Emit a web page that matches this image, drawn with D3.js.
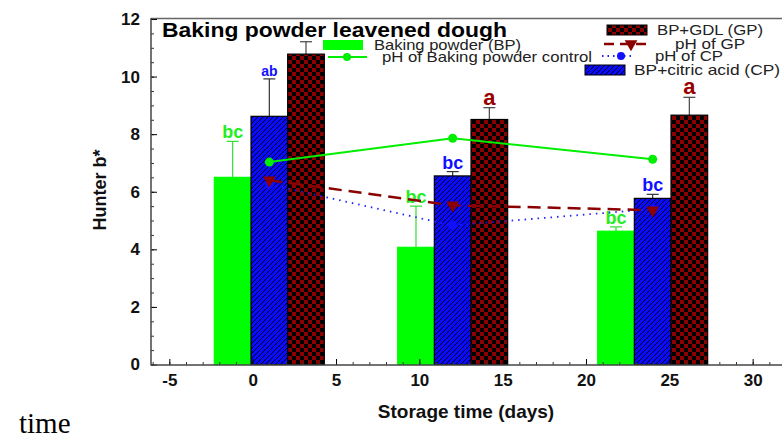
<!DOCTYPE html>
<html><head><meta charset="utf-8">
<script src="https://cdn.jsdelivr.net/npm/d3@7"></script>
<style>
body{margin:0;background:#fff;}
svg{display:block;font-family:"Liberation Sans",Arial,sans-serif;}
</style></head>
<body>
<svg id="chart" width="782" height="438"></svg>
<script>
// ---- data ----
const days = [1, 12, 24];
const bpValues = [6.5, 4.07, 4.63];
const bpErrors = [1.25, 1.43, 0.15];
const cpValues = [8.62, 6.55, 5.77];
const cpErrors = [1.3, 0.15, 0.14];
const gpValues = [10.78, 8.51, 8.66];
const gpErrors = [0.43, 0.41, 0.62];
const phBP = [7.03, 7.86, 7.13];
const phGP = [6.4, 5.53, 5.36];
const phCP = [6.25, 4.83, 5.4];
const bpLetters = ["bc", "bc", "bc"];
const cpLetters = ["ab", "bc", "bc"];
const gpLetters = ["", "a", "a"];
const xTicks = [-5, 0, 5, 10, 15, 20, 25, 30];
const yTicks = [0, 2, 4, 6, 8, 10, 12];

const svg = d3.select("#chart");
const x = d3.scaleLinear().domain([-6.1, 32]).range([151, 786]);
const y = d3.scaleLinear().domain([0, 12]).range([364.5, 19]);
const barW = 2.2; // days

const defs = svg.append("defs");
const chk = defs.append("pattern").attr("id","checker").attr("patternUnits","userSpaceOnUse")
  .attr("width",8).attr("height",8);
chk.append("rect").attr("width",8).attr("height",8).attr("fill","#8b0000");
chk.append("rect").attr("width",4).attr("height",4).attr("fill","#000");
chk.append("rect").attr("x",4).attr("y",4).attr("width",4).attr("height",4).attr("fill","#000");
const hat = defs.append("pattern").attr("id","hatch").attr("patternUnits","userSpaceOnUse")
  .attr("width",5).attr("height",5);
hat.append("rect").attr("width",5).attr("height",5).attr("fill","#0a0aff");
hat.append("path").attr("d","M-1,1 l2,-2 M0,5 l5,-5 M4,6 l2,-2").attr("stroke","#000").attr("stroke-width",0.9);

const barSeries = [
  {vals: bpValues, errs: bpErrors, letters: bpLetters, off: -barW, fill: "#00ff00", stroke: "#00ff00", err: "#33dd33", lc: "#22ee22", fs: 18},
  {vals: cpValues, errs: cpErrors, letters: cpLetters, off: 0, fill: "url(#hatch)", stroke: "#000", err: "#333", lc: "#1010ff", fs: 18},
  {vals: gpValues, errs: gpErrors, letters: gpLetters, off: barW, fill: "url(#checker)", stroke: "#000", err: "#444", lc: "#990000", fs: 22}
];

// frame
svg.append("line").attr("x1",151).attr("x2",782).attr("y1",18.5).attr("y2",18.5).attr("stroke","#666").attr("stroke-width",1.5);

// bars
barSeries.forEach(s => {
  const g = svg.append("g");
  days.forEach((d,i) => {
    const x0 = x(d + s.off - barW/2), x1 = x(d + s.off + barW/2);
    const cx = (x0+x1)/2;
    const yt = y(s.vals[i]), ye = y(s.vals[i] + s.errs[i]);
    g.append("line").attr("x1",cx).attr("x2",cx).attr("y1",yt).attr("y2",ye).attr("stroke",s.err).attr("stroke-width",1.2);
    g.append("line").attr("x1",cx-6).attr("x2",cx+6).attr("y1",ye).attr("y2",ye).attr("stroke",s.err).attr("stroke-width",1.2);
    g.append("rect").attr("x",x0).attr("y",yt).attr("width",x1-x0).attr("height",y(0)-yt)
      .attr("fill",s.fill).attr("stroke",s.stroke).attr("stroke-width",1.2);
    if (s.letters[i]) {
      g.append("text").attr("x",cx).attr("y",ye-3).attr("text-anchor","middle")
        .attr("font-weight","bold").attr("font-size", (s.letters[i]==="ab")?14:s.fs)
        .attr("fill",s.lc).text(s.letters[i]);
    }
  });
});

// pH lines
const line = d3.line().x(d=>x(d[0])).y(d=>y(d[1]));
const ptsBP = days.map((d,i)=>[d,phBP[i]]);
const ptsGP = days.map((d,i)=>[d,phGP[i]]);
const ptsCP = days.map((d,i)=>[d,phCP[i]]);
svg.append("path").attr("d",line(ptsCP)).attr("fill","none").attr("stroke","#2020ff").attr("stroke-width",1.8).attr("stroke-dasharray","1.5,5");
svg.append("path").attr("d",line(ptsGP)).attr("fill","none").attr("stroke","#8b0000").attr("stroke-width",2.5).attr("stroke-dasharray","13,7");
svg.append("path").attr("d",line(ptsBP)).attr("fill","none").attr("stroke","#00ee00").attr("stroke-width",2);
const tri = d3.symbol().type(d3.symbolTriangle).size(70);
svg.selectAll(".cp").data(ptsCP).join("circle").attr("cx",d=>x(d[0])).attr("cy",d=>y(d[1])).attr("r",4.5).attr("fill","#1010ff");
svg.selectAll(".gp").data(ptsGP).join("path").attr("d",tri).attr("transform",d=>`translate(${x(d[0])},${y(d[1])}) rotate(180)`).attr("fill","#8b0000");
svg.selectAll(".bp").data(ptsBP).join("circle").attr("cx",d=>x(d[0])).attr("cy",d=>y(d[1])).attr("r",4.5).attr("fill","#00ee00");

// axes
const xMinor = d3.range(-6, 33, 1);
const yMinor = d3.range(0, 12.01, 0.5);
svg.append("g").attr("transform","translate(0,365)").call(d3.axisBottom(x).tickValues(xMinor).tickSize(-3).tickFormat(""))
  .call(g=>g.select(".domain").remove()).selectAll("line").attr("stroke","#333");
svg.append("g").attr("transform","translate(151,0)").call(d3.axisLeft(y).tickValues(yMinor).tickSize(-3).tickFormat(""))
  .call(g=>g.select(".domain").remove()).selectAll("line").attr("stroke","#333");
const xa = svg.append("g").attr("transform","translate(0,365)")
  .call(d3.axisBottom(x).tickValues(xTicks).tickSize(-6).tickPadding(9).tickFormat(d => String(d)));
xa.select(".domain").remove();
xa.selectAll("text").attr("font-size",17).attr("font-weight","bold").attr("fill","#111").attr("font-family","Liberation Sans, Arial");
const ya = svg.append("g").attr("transform","translate(151,0)")
  .call(d3.axisLeft(y).tickValues(yTicks).tickSize(-6).tickPadding(11).tickFormat(d => String(d)));
ya.select(".domain").remove();
ya.selectAll("text").attr("font-size",17).attr("font-weight","bold").attr("fill","#111").attr("font-family","Liberation Sans, Arial");
svg.append("line").attr("x1",151).attr("x2",782).attr("y1",365).attr("y2",365).attr("stroke","#444").attr("stroke-width",1.5);
svg.append("line").attr("x1",151).attr("x2",151).attr("y1",18).attr("y2",365.5).attr("stroke","#444").attr("stroke-width",1.5);

// axis titles
svg.append("text").attr("x",466).attr("y",418).attr("text-anchor","middle").attr("font-size",19).attr("font-weight","bold").attr("fill","#111").text("Storage time (days)");
svg.append("text").attr("transform","translate(106,190) rotate(-90)").attr("text-anchor","middle").attr("font-size",18).attr("font-weight","bold").attr("fill","#111").text("Hunter b*");
svg.append("text").attr("x",19).attr("y",433).attr("font-family","Liberation Serif, Times New Roman, serif").attr("font-size",29).attr("fill","#000").text("time");

// title
svg.append("text").attr("x",162).attr("y",37).attr("font-size",21).attr("font-weight","bold").attr("fill","#000")
  .attr("textLength",345).attr("lengthAdjust","spacingAndGlyphs").text("Baking powder leavened dough");

// legend
const lg = svg.append("g").attr("font-size",15).attr("fill","#222");
lg.append("rect").attr("x",323).attr("y",40).attr("width",40).attr("height",10).attr("fill","#00ff00");
lg.append("text").attr("x",374).attr("y",50).attr("textLength",147).attr("lengthAdjust","spacingAndGlyphs").text("Baking powder (BP)");
lg.append("line").attr("x1",328).attr("x2",367).attr("y1",57).attr("y2",57).attr("stroke","#00ee00").attr("stroke-width",2);
lg.append("circle").attr("cx",347).attr("cy",57).attr("r",4).attr("fill","#00ee00");
lg.append("text").attr("x",382).attr("y",62).attr("textLength",210).attr("lengthAdjust","spacingAndGlyphs").text("pH of Baking powder control");

lg.append("rect").attr("x",607).attr("y",25).attr("width",40).attr("height",10).attr("fill","url(#checker)").attr("stroke","#000");
lg.append("text").attr("x",657).attr("y",35).attr("textLength",106).attr("lengthAdjust","spacingAndGlyphs").text("BP+GDL (GP)");
lg.append("line").attr("x1",604).attr("x2",651).attr("y1",44).attr("y2",44).attr("stroke","#8b0000").attr("stroke-width",2.5).attr("stroke-dasharray","10,6");
lg.append("path").attr("d",tri).attr("transform","translate(631,44) rotate(180)").attr("fill","#8b0000");
lg.append("text").attr("x",675).attr("y",49).attr("textLength",70).attr("lengthAdjust","spacingAndGlyphs").text("pH of GP");
lg.append("line").attr("x1",602).attr("x2",633).attr("y1",56).attr("y2",56).attr("stroke","#2020ff").attr("stroke-width",1.8).attr("stroke-dasharray","1.5,4");
lg.append("circle").attr("cx",621).attr("cy",56).attr("r",4).attr("fill","#1010ff");
lg.append("text").attr("x",655).attr("y",61).attr("textLength",68).attr("lengthAdjust","spacingAndGlyphs").text("pH of CP");
lg.append("rect").attr("x",585).attr("y",65).attr("width",40).attr("height",10).attr("fill","url(#hatch)").attr("stroke","#000");
lg.append("text").attr("x",634).attr("y",75).attr("textLength",146).attr("lengthAdjust","spacingAndGlyphs").text("BP+citric acid (CP)");
</script>
</body></html>
